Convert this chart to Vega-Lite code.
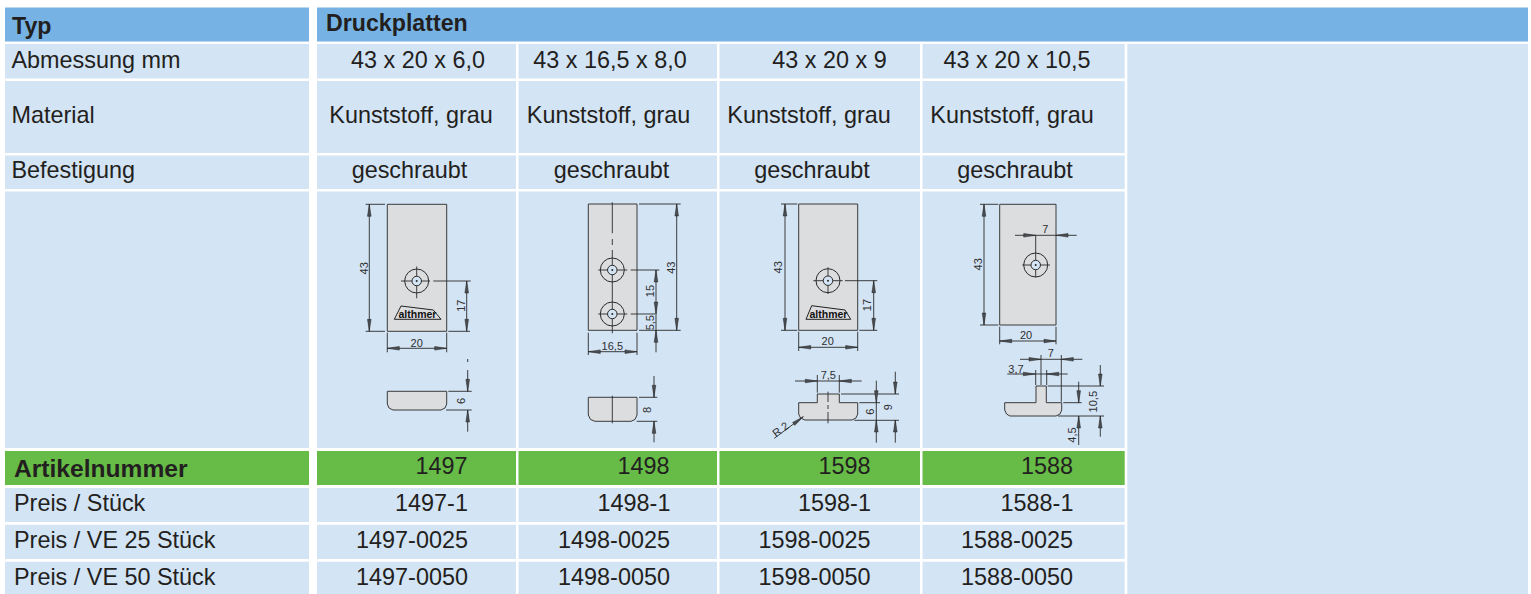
{
"$schema":"https://vega.github.io/schema/vega-lite/v6.json",
"width":1531,"height":594,"padding":0,
"autosize":{"type":"fit","contains":"padding"},
"background":"white",
"config":{"view":{"stroke":null}},
"datasets":{
"cells":[
{"kind":"head","x":5,"x2":309,"y":7.5,"y2":41.5},
{"kind":"head","x":317,"x2":1528,"y":7.5,"y2":41.5},
{"kind":"body","x":5,"x2":309,"y":44,"y2":78.5},
{"kind":"body","x":5,"x2":309,"y":81,"y2":153},
{"kind":"body","x":5,"x2":309,"y":155.5,"y2":189},
{"kind":"body","x":5,"x2":309,"y":191.5,"y2":448},
{"kind":"green","x":5,"x2":309,"y":451,"y2":485},
{"kind":"body","x":5,"x2":309,"y":488,"y2":522},
{"kind":"body","x":5,"x2":309,"y":524.7,"y2":559},
{"kind":"body","x":5,"x2":309,"y":561.7,"y2":594},
{"kind":"body","x":317,"x2":516,"y":44,"y2":78.5},
{"kind":"body","x":317,"x2":516,"y":81,"y2":153},
{"kind":"body","x":317,"x2":516,"y":155.5,"y2":189},
{"kind":"body","x":317,"x2":516,"y":191.5,"y2":448},
{"kind":"green","x":317,"x2":516,"y":451,"y2":485},
{"kind":"body","x":317,"x2":516,"y":488,"y2":522},
{"kind":"body","x":317,"x2":516,"y":524.7,"y2":559},
{"kind":"body","x":317,"x2":516,"y":561.7,"y2":594},
{"kind":"body","x":518.5,"x2":717,"y":44,"y2":78.5},
{"kind":"body","x":518.5,"x2":717,"y":81,"y2":153},
{"kind":"body","x":518.5,"x2":717,"y":155.5,"y2":189},
{"kind":"body","x":518.5,"x2":717,"y":191.5,"y2":448},
{"kind":"green","x":518.5,"x2":717,"y":451,"y2":485},
{"kind":"body","x":518.5,"x2":717,"y":488,"y2":522},
{"kind":"body","x":518.5,"x2":717,"y":524.7,"y2":559},
{"kind":"body","x":518.5,"x2":717,"y":561.7,"y2":594},
{"kind":"body","x":719.5,"x2":920,"y":44,"y2":78.5},
{"kind":"body","x":719.5,"x2":920,"y":81,"y2":153},
{"kind":"body","x":719.5,"x2":920,"y":155.5,"y2":189},
{"kind":"body","x":719.5,"x2":920,"y":191.5,"y2":448},
{"kind":"green","x":719.5,"x2":920,"y":451,"y2":485},
{"kind":"body","x":719.5,"x2":920,"y":488,"y2":522},
{"kind":"body","x":719.5,"x2":920,"y":524.7,"y2":559},
{"kind":"body","x":719.5,"x2":920,"y":561.7,"y2":594},
{"kind":"body","x":922.5,"x2":1124.7,"y":44,"y2":78.5},
{"kind":"body","x":922.5,"x2":1124.7,"y":81,"y2":153},
{"kind":"body","x":922.5,"x2":1124.7,"y":155.5,"y2":189},
{"kind":"body","x":922.5,"x2":1124.7,"y":191.5,"y2":448},
{"kind":"green","x":922.5,"x2":1124.7,"y":451,"y2":485},
{"kind":"body","x":922.5,"x2":1124.7,"y":488,"y2":522},
{"kind":"body","x":922.5,"x2":1124.7,"y":524.7,"y2":559},
{"kind":"body","x":922.5,"x2":1124.7,"y":561.7,"y2":594},
{"kind":"body","x":1127.3,"x2":1528,"y":44,"y2":594}
],
"plates":[
{"x":387.3,"x2":446.7,"y":204.3,"y2":331.3},
{"x":588.3,"x2":637,"y":204,"y2":330.3},
{"x":798.7,"x2":857.7,"y":204,"y2":330.3},
{"x":999.7,"x2":1056,"y":204.3,"y2":325}
],
"sections":[
{"s":"a","o":1,"x":387.3,"y":391.3},{"s":"a","o":2,"x":446.7,"y":391.3},{"s":"a","o":3,"x":446.7,"y":404},{"s":"a","o":4,"x":445,"y":408},{"s":"a","o":5,"x":441,"y":410},{"s":"a","o":6,"x":393,"y":410},{"s":"a","o":7,"x":389,"y":408},{"s":"a","o":8,"x":387.3,"y":404},{"s":"a","o":9,"x":387.3,"y":391.3},
{"s":"b","o":1,"x":588.3,"y":397.3},{"s":"b","o":2,"x":637,"y":397.3},{"s":"b","o":3,"x":637,"y":415},{"s":"b","o":4,"x":635,"y":419.5},{"s":"b","o":5,"x":631,"y":421.3},{"s":"b","o":6,"x":595,"y":421.3},{"s":"b","o":7,"x":590.5,"y":419.5},{"s":"b","o":8,"x":588.3,"y":415},{"s":"b","o":9,"x":588.3,"y":397.3},
{"s":"c","o":1,"x":817.3,"y":394},{"s":"c","o":2,"x":839.3,"y":394},{"s":"c","o":3,"x":839.3,"y":402.7},{"s":"c","o":4,"x":857.7,"y":402.7},{"s":"c","o":5,"x":857.7,"y":414},{"s":"c","o":6,"x":856,"y":418},{"s":"c","o":7,"x":852,"y":420},{"s":"c","o":8,"x":805,"y":420},{"s":"c","o":9,"x":800.5,"y":418},{"s":"c","o":10,"x":798.7,"y":414},{"s":"c","o":11,"x":798.7,"y":402.7},{"s":"c","o":12,"x":817.3,"y":402.7},{"s":"c","o":13,"x":817.3,"y":394},
{"s":"d","o":1,"x":1036,"y":386},{"s":"d","o":2,"x":1046.3,"y":386},{"s":"d","o":3,"x":1046.3,"y":402.7},{"s":"d","o":4,"x":1061.7,"y":402.7},{"s":"d","o":5,"x":1061.7,"y":410},{"s":"d","o":6,"x":1060,"y":414},{"s":"d","o":7,"x":1056,"y":416},{"s":"d","o":8,"x":1010,"y":416},{"s":"d","o":9,"x":1006.5,"y":414},{"s":"d","o":10,"x":1004.7,"y":410},{"s":"d","o":11,"x":1004.7,"y":402.7},{"s":"d","o":12,"x":1036,"y":402.7},{"s":"d","o":13,"x":1036,"y":386},
{"s":"l1","o":1,"x":394.3,"y":319.3},{"s":"l1","o":2,"x":401,"y":306},{"s":"l1","o":3,"x":433.3,"y":310},{"s":"l1","o":4,"x":441,"y":319.3},{"s":"l1","o":5,"x":394.3,"y":319.3},
{"s":"l2","o":1,"x":806,"y":319.3},{"s":"l2","o":2,"x":811.7,"y":305.7},{"s":"l2","o":3,"x":845,"y":310},{"s":"l2","o":4,"x":850.7,"y":319.3},{"s":"l2","o":5,"x":806,"y":319.3}
],
"lines":[
{"x":365.7,"x2":385,"y":204.3,"y2":204.3},{"x":365.7,"x2":385,"y":331.3,"y2":331.3},{"x":369.3,"x2":369.3,"y":204.3,"y2":331.3},
{"x":416.7,"x2":416.7,"y":266.5,"y2":298.3},{"x":401,"x2":430,"y":281,"y2":281},{"x":433.3,"x2":470.7,"y":281,"y2":281},
{"x":466.7,"x2":466.7,"y":281,"y2":331.3},{"x":448.3,"x2":470,"y":331.3,"y2":331.3},
{"x":387.3,"x2":446.7,"y":348.3,"y2":348.3},{"x":387.3,"x2":387.3,"y":332.7,"y2":352.3},{"x":446.7,"x2":446.7,"y":332.7,"y2":352.3},
{"x":467.7,"x2":467.7,"y":359,"y2":362},{"x":467.7,"x2":467.7,"y":370,"y2":391.3},{"x":467.7,"x2":467.7,"y":410,"y2":431.7},
{"x":448.3,"x2":471.7,"y":391.3,"y2":391.3},{"x":446,"x2":471.7,"y":410,"y2":410},
{"x":612.3,"x2":612.3,"y":202.3,"y2":233.3},{"x":612.3,"x2":612.3,"y":239,"y2":245},{"x":612.3,"x2":612.3,"y":250,"y2":333.3},
{"x":598.3,"x2":627.3,"y":270,"y2":270},{"x":630.7,"x2":659.3,"y":270,"y2":270},{"x":598.3,"x2":627.3,"y":314,"y2":314},{"x":630.7,"x2":655,"y":314,"y2":314},
{"x":639,"x2":680.7,"y":204,"y2":204},{"x":639,"x2":680.7,"y":330.3,"y2":330.3},{"x":676.7,"x2":676.7,"y":204,"y2":330.3},
{"x":656,"x2":656,"y":270,"y2":352.3},
{"x":588.3,"x2":637,"y":351.7,"y2":351.7},{"x":588.3,"x2":588.3,"y":332.7,"y2":355},{"x":637,"x2":637,"y":332.7,"y2":355},
{"x":612.3,"x2":612.3,"y":395.7,"y2":423.3},
{"x":654,"x2":654,"y":376,"y2":397.3},{"x":654,"x2":654,"y":421.3,"y2":442.3},{"x":639,"x2":657.3,"y":397.3,"y2":397.3},{"x":636.7,"x2":657.3,"y":421.3,"y2":421.3},
{"x":781,"x2":797.3,"y":204,"y2":204},{"x":781,"x2":797.3,"y":330.3,"y2":330.3},{"x":785,"x2":785,"y":204,"y2":330.3},
{"x":828,"x2":828,"y":267.3,"y2":294},{"x":813.3,"x2":842.7,"y":280.7,"y2":280.7},{"x":845,"x2":877.3,"y":280.7,"y2":280.7},
{"x":873.7,"x2":873.7,"y":280.7,"y2":330.3},{"x":859.3,"x2":877.3,"y":330.3,"y2":330.3},
{"x":798.7,"x2":857.7,"y":347.3,"y2":347.3},{"x":798.7,"x2":798.7,"y":331.7,"y2":351},{"x":857.7,"x2":857.7,"y":331.7,"y2":351},
{"x":828,"x2":828,"y":391.7,"y2":402},{"x":828,"x2":828,"y":405,"y2":409},{"x":828,"x2":828,"y":412,"y2":423.3},
{"x":795,"x2":861.7,"y":381,"y2":381},{"x":817.3,"x2":817.3,"y":375,"y2":392.7},{"x":839.3,"x2":839.3,"y":375,"y2":392.7},
{"x":876.3,"x2":876.3,"y":380.7,"y2":442.7},{"x":859.3,"x2":880,"y":402.7,"y2":402.7},{"x":854.3,"x2":899,"y":420.3,"y2":420.3},
{"x":841,"x2":899,"y":394,"y2":394},{"x":895.3,"x2":895.3,"y":371.7,"y2":394},{"x":895.3,"x2":895.3,"y":420,"y2":442.7},
{"x":774.3,"x2":803.3,"y":438.3,"y2":416.7},
{"x":980,"x2":998.3,"y":204.3,"y2":204.3},{"x":980,"x2":998.3,"y":325,"y2":325},{"x":984,"x2":984,"y":204.3,"y2":325},
{"x":1035.7,"x2":1035.7,"y":235,"y2":277.3},{"x":1022.3,"x2":1050,"y":265,"y2":265},
{"x":1015,"x2":1076.7,"y":235.3,"y2":235.3},
{"x":999.7,"x2":1056,"y":341,"y2":341},{"x":999.7,"x2":999.7,"y":326.7,"y2":344.3},{"x":1056,"x2":1056,"y":326.7,"y2":344.3},
{"x":1020,"x2":1082.3,"y":359.3,"y2":359.3},{"x":1041,"x2":1041,"y":355,"y2":385},{"x":1061.3,"x2":1061.3,"y":355,"y2":401.7},
{"x":1007.3,"x2":1067.7,"y":374,"y2":374},{"x":1035.7,"x2":1035.7,"y":370,"y2":385},{"x":1046.7,"x2":1046.7,"y":370,"y2":385},
{"x":1100.3,"x2":1100.3,"y":365,"y2":386},{"x":1100.3,"x2":1100.3,"y":416,"y2":436.7},{"x":1047.7,"x2":1104,"y":386,"y2":386},{"x":1058,"x2":1104,"y":416,"y2":416},
{"x":1078.7,"x2":1078.7,"y":381.7,"y2":402.7},{"x":1078.7,"x2":1078.7,"y":416,"y2":445},{"x":1063.3,"x2":1081.7,"y":402.7,"y2":402.7}
],
"rings":[
{"x":416.7,"y":281,"part":"outer"},{"x":612.3,"y":270,"part":"outer"},{"x":612.3,"y":314,"part":"outer"},{"x":828,"y":280.7,"part":"outer"},{"x":1035.7,"y":265,"part":"outer"},
{"x":416.7,"y":281,"part":"hole"},{"x":612.3,"y":270,"part":"hole"},{"x":612.3,"y":314,"part":"hole"},{"x":828,"y":280.7,"part":"hole"},{"x":1035.7,"y":265,"part":"hole"}
],
"arrows":[
{"x":369.3,"y":204.3,"a":0},{"x":369.3,"y":331.3,"a":180},{"x":466.7,"y":281,"a":0},{"x":466.7,"y":331.3,"a":180},{"x":387.3,"y":348.3,"a":270},{"x":446.7,"y":348.3,"a":90},{"x":467.7,"y":391.3,"a":180},{"x":467.7,"y":410,"a":0},
{"x":676.7,"y":204,"a":0},{"x":676.7,"y":330.3,"a":180},{"x":656,"y":270,"a":0},{"x":656,"y":314,"a":180},{"x":656,"y":330.3,"a":0},{"x":588.3,"y":351.7,"a":270},{"x":637,"y":351.7,"a":90},{"x":654,"y":397.3,"a":180},{"x":654,"y":421.3,"a":0},
{"x":785,"y":204,"a":0},{"x":785,"y":330.3,"a":180},{"x":873.7,"y":280.7,"a":0},{"x":873.7,"y":330.3,"a":180},{"x":798.7,"y":347.3,"a":270},{"x":857.7,"y":347.3,"a":90},{"x":817.3,"y":381,"a":90},{"x":839.3,"y":381,"a":270},{"x":876.3,"y":402.7,"a":180},{"x":876.3,"y":420,"a":0},{"x":895.3,"y":394,"a":180},{"x":895.3,"y":420,"a":0},{"x":803.3,"y":416.7,"a":53},
{"x":984,"y":204.3,"a":0},{"x":984,"y":325,"a":180},{"x":1035.7,"y":235.3,"a":90},{"x":1056,"y":235.3,"a":270},{"x":999.7,"y":341,"a":270},{"x":1056,"y":341,"a":90},{"x":1041,"y":359.3,"a":90},{"x":1061.3,"y":359.3,"a":270},{"x":1035.3,"y":374,"a":90},{"x":1046.7,"y":374,"a":270},{"x":1100.3,"y":386,"a":180},{"x":1100.3,"y":416,"a":0},{"x":1078.7,"y":402.7,"a":180},{"x":1078.7,"y":416,"a":0}
],
"labels":[
{"k":"bold","x":12,"y":33.5,"t":"Typ"},{"k":"bold","x":326,"y":30.5,"t":"Druckplatten"},
{"k":"left","x":11.5,"y":68,"t":"Abmessung mm"},{"k":"left","x":11.5,"y":123,"t":"Material"},{"k":"left","x":11.5,"y":178,"t":"Befestigung"},
{"k":"left","x":14,"y":511,"t":"Preis / Stück"},{"k":"left","x":14,"y":548,"t":"Preis / VE 25 Stück"},{"k":"left","x":14,"y":585,"t":"Preis / VE 50 Stück"},
{"k":"art","x":14,"y":477,"t":"Artikelnummer"},
{"k":"mid","x":418,"y":68,"t":"43 x 20 x 6,0"},{"k":"mid","x":610,"y":68,"t":"43 x 16,5 x 8,0"},{"k":"mid","x":829.5,"y":68,"t":"43 x 20 x 9"},{"k":"mid","x":1017,"y":68,"t":"43 x 20 x 10,5"},
{"k":"mid","x":411,"y":123,"t":"Kunststoff, grau"},{"k":"mid","x":608.5,"y":123,"t":"Kunststoff, grau"},{"k":"mid","x":809,"y":123,"t":"Kunststoff, grau"},{"k":"mid","x":1012,"y":123,"t":"Kunststoff, grau"},
{"k":"mid","x":409.5,"y":178,"t":"geschraubt"},{"k":"mid","x":611.5,"y":178,"t":"geschraubt"},{"k":"mid","x":812,"y":178,"t":"geschraubt"},{"k":"mid","x":1015,"y":178,"t":"geschraubt"},
{"k":"mid","x":441.5,"y":474,"t":"1497"},{"k":"mid","x":643.5,"y":474,"t":"1498"},{"k":"mid","x":844.5,"y":474,"t":"1598"},{"k":"mid","x":1047,"y":474,"t":"1588"},
{"k":"mid","x":431.5,"y":511,"t":"1497-1"},{"k":"mid","x":634,"y":511,"t":"1498-1"},{"k":"mid","x":834.5,"y":511,"t":"1598-1"},{"k":"mid","x":1037,"y":511,"t":"1588-1"},
{"k":"mid","x":412,"y":548,"t":"1497-0025"},{"k":"mid","x":614,"y":548,"t":"1498-0025"},{"k":"mid","x":814.5,"y":548,"t":"1598-0025"},{"k":"mid","x":1017,"y":548,"t":"1588-0025"},
{"k":"mid","x":412,"y":585,"t":"1497-0050"},{"k":"mid","x":614,"y":585,"t":"1498-0050"},{"k":"mid","x":814.5,"y":585,"t":"1598-0050"},{"k":"mid","x":1017,"y":585,"t":"1588-0050"}
],
"dims":[
{"x":364.5,"y":268.3,"t":"43","r":270},{"x":461.7,"y":305.7,"t":"17","r":270},{"x":416.7,"y":343.5,"t":"20","r":0},{"x":462.3,"y":401,"t":"6","r":270},
{"x":671.7,"y":267.7,"t":"43","r":270},{"x":650.7,"y":291,"t":"15","r":270},{"x":650.7,"y":322.7,"t":"5,5","r":270},{"x":612.3,"y":346.7,"t":"16,5","r":0},{"x":648.3,"y":410,"t":"8","r":270},
{"x":779.3,"y":267.3,"t":"43","r":270},{"x":868.3,"y":305,"t":"17","r":270},{"x":827.7,"y":342.3,"t":"20","r":0},{"x":828.3,"y":375.7,"t":"7,5","r":0},{"x":870.7,"y":411.7,"t":"6","r":270},{"x":889.3,"y":407.3,"t":"9","r":270},{"x":781,"y":430,"t":"R 2","r":323},
{"x":978.7,"y":264.3,"t":"43","r":270},{"x":1045.3,"y":230.3,"t":"7","r":0},{"x":1026,"y":335.7,"t":"20","r":0},{"x":1050.7,"y":354.3,"t":"7","r":0},{"x":1016,"y":370,"t":"3,7","r":0},{"x":1094.3,"y":401.7,"t":"10,5","r":270},{"x":1073.3,"y":435,"t":"4,5","r":270}
],
"logos":[{"x":417.5,"y":314.5,"t":"althmer"},{"x":828.5,"y":314.5,"t":"althmer"}]
},
"encoding":{
"x":{"field":"x","type":"quantitative","scale":{"domain":[0,1531],"nice":false,"zero":false},"axis":null},
"y":{"field":"y","type":"quantitative","scale":{"domain":[594,0],"nice":false,"zero":false},"axis":null}
},
"layer":[
{"data":{"name":"cells"},"mark":{"type":"rect"},
 "encoding":{"x2":{"field":"x2"},"y2":{"field":"y2"},
 "color":{"field":"kind","type":"nominal","legend":null,"scale":{"domain":["head","body","green"],"range":["#76b3e4","#d3e4f5","#66bc47"]}}}},
{"data":{"name":"plates"},"mark":{"type":"rect","fill":"#dcdddf","stroke":"#3a3a3a","strokeWidth":1},
 "encoding":{"x2":{"field":"x2"},"y2":{"field":"y2"}}},
{"data":{"name":"sections"},"transform":[{"filter":"indexof(['a','b','c','d'],datum.s)>=0"}],
 "mark":{"type":"line","fill":"#dcdddf","stroke":"#3a3a3a","strokeWidth":1},
 "encoding":{"detail":{"field":"s"},"order":{"field":"o","type":"quantitative"}}},
{"data":{"name":"sections"},"transform":[{"filter":"indexof(['l1','l2'],datum.s)>=0"}],
 "mark":{"type":"line","stroke":"#222222","strokeWidth":1},
 "encoding":{"detail":{"field":"s"},"order":{"field":"o","type":"quantitative"}}},
{"data":{"name":"lines"},"mark":{"type":"rule","stroke":"#2a2a2a","strokeWidth":0.9},
 "encoding":{"x2":{"field":"x2"},"y2":{"field":"y2"}}},
{"data":{"name":"rings"},"transform":[{"filter":"datum.part==='outer'"}],
 "mark":{"type":"point","shape":"circle","size":576,"filled":false,"stroke":"#2a2a2a","strokeWidth":1,"opacity":1}},
{"data":{"name":"rings"},"transform":[{"filter":"datum.part==='hole'"}],
 "mark":{"type":"point","shape":"circle","size":90,"filled":true,"fill":"#d3e4f5","stroke":"#2a2a2a","strokeWidth":1,"opacity":1}},
{"data":{"name":"rings"},"transform":[{"filter":"datum.part==='hole'"}],
 "mark":{"type":"point","shape":"circle","size":4,"filled":true,"fill":"#2a2a2a","opacity":1}},
{"data":{"name":"arrows"},
 "mark":{"type":"point","shape":"M0,0L-.15,1L.15,1Z","size":576,"filled":true,"fill":"#4a4e52","stroke":"#222222","strokeWidth":0.5,"opacity":1},
 "encoding":{"angle":{"field":"a","type":"quantitative","scale":null}}},
{"data":{"name":"labels"},"transform":[{"filter":"datum.k==='bold'"}],
 "mark":{"type":"text","font":"Liberation Sans","fontWeight":"bold","fontSize":23.2,"align":"left","baseline":"alphabetic","fill":"#231f20"},
 "encoding":{"text":{"field":"t"}}},
{"data":{"name":"labels"},"transform":[{"filter":"datum.k==='art'"}],
 "mark":{"type":"text","font":"Liberation Sans","fontWeight":"bold","fontSize":24.6,"align":"left","baseline":"alphabetic","fill":"#231f20"},
 "encoding":{"text":{"field":"t"}}},
{"data":{"name":"labels"},"transform":[{"filter":"datum.k==='left'"}],
 "mark":{"type":"text","font":"Liberation Sans","fontSize":23.4,"align":"left","baseline":"alphabetic","fill":"#231f20"},
 "encoding":{"text":{"field":"t"}}},
{"data":{"name":"labels"},"transform":[{"filter":"datum.k==='mid'"}],
 "mark":{"type":"text","font":"Liberation Sans","fontSize":23.4,"align":"center","baseline":"alphabetic","fill":"#231f20"},
 "encoding":{"text":{"field":"t"}}},
{"data":{"name":"dims"},
 "mark":{"type":"text","font":"Liberation Sans","fontSize":11,"align":"center","baseline":"middle","fill":"#2f2f2f"},
 "encoding":{"text":{"field":"t"},"angle":{"field":"r","type":"quantitative","scale":null}}},
{"data":{"name":"logos"},
 "mark":{"type":"text","font":"Liberation Sans","fontWeight":"bold","fontSize":10.5,"align":"center","baseline":"middle","fill":"#111111"},
 "encoding":{"text":{"field":"t"}}}
]
}
